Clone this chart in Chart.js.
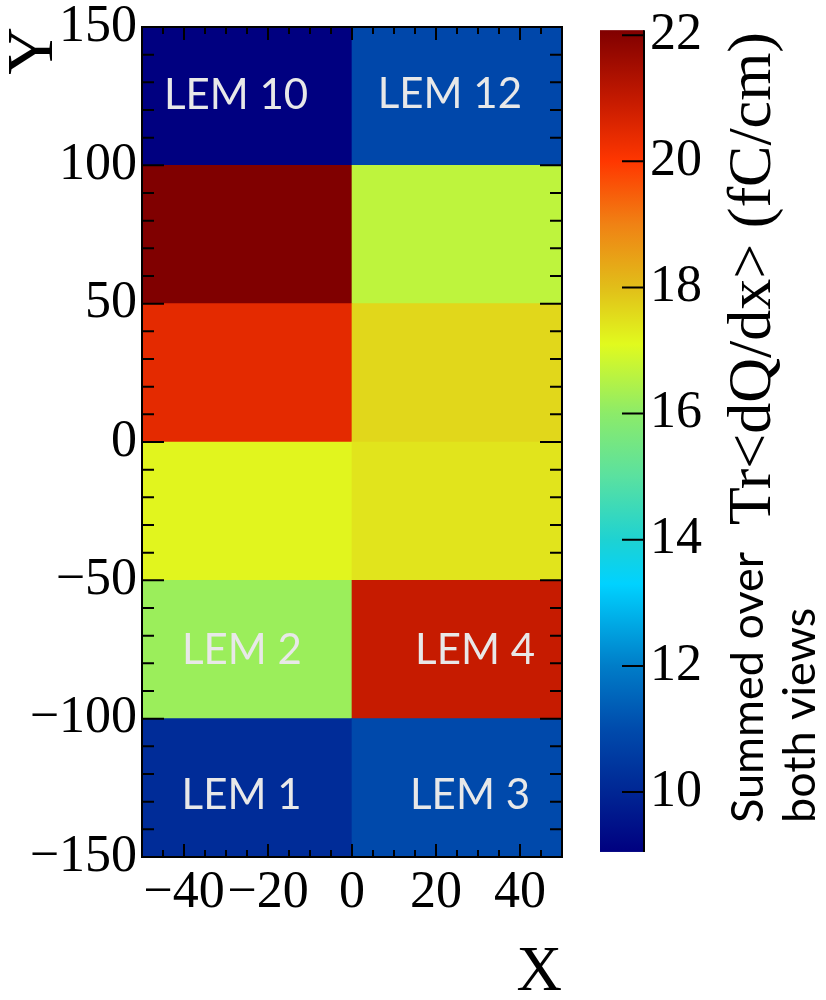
<!DOCTYPE html>
<html>
<head>
<meta charset="utf-8">
<script src="https://cdn.jsdelivr.net/npm/chart.js@4.4.1/dist/chart.umd.min.js"></script>
<style>
  html, body { margin: 0; padding: 0; background: #fff; }
</style>
</head>
<body>
<canvas id="chart" width="826" height="1000"></canvas>
<script>
// cell edges along Y, rows listed bottom -> top
const rowEdges = [-150, -100, -50, 0, 50, 100, 150];
const columns = ['X < 0', 'X > 0'];
// Tr<dQ/dx> (fC/cm) per cell, bottom -> top
const leftValues = [10.15, 16.2, 17.17, 20.45, 22.08, 9.05];
const rightValues = [10.95, 20.95, 17.43, 17.62, 16.65, 10.9];

// LEM names and where they sit (data units)
const lemNames = ['LEM 1', 'LEM 3', 'LEM 2', 'LEM 4', 'LEM 10', 'LEM 12'];
const lemX = [-26.3, 28.1, -26.2, 29.3, -27.6, 23.3];
const lemY = [-127.6, -127.6, -75.2, -75.2, 125.4, 125.8];

const xTicks = [-40, -20, 0, 20, 40];
const yTicks = [-150, -100, -50, 0, 50, 100, 150];
const zTicks = [10, 12, 14, 16, 18, 20, 22];

// colour palette: [value, [r, g, b]]
const palette = [
    [9.05, [0, 0, 128]],
    [10.0, [0, 38, 148]],
    [11.0, [0, 75, 172]],
    [12.0, [0, 125, 200]],
    [13.3, [0, 210, 255]],
    [14.0, [30, 210, 210]],
    [15.0, [90, 225, 160]],
    [16.0, [140, 235, 105]],
    [17.1, [225, 250, 30]],
    [18.0, [225, 190, 25]],
    [19.0, [240, 130, 20]],
    [20.0, [255, 55, 0]],
    [21.0, [195, 25, 0]],
    [22.08, [128, 0, 0]]
];

const allValues = leftValues.concat(rightValues);
const zMin = Math.min(...allValues);
const zMax = Math.max(...allValues);

function colourFor(v) {
    if (v <= palette[0][0]) return rgb(palette[0][1]);
    for (let i = 1; i < palette.length; i++) {
        if (v <= palette[i][0]) {
            const [v0, c0] = palette[i - 1];
            const [v1, c1] = palette[i];
            const t = (v - v0) / (v1 - v0);
            return rgb(c0.map((c, k) => c + (c1[k] - c) * t));
        }
    }
    return rgb(palette[palette.length - 1][1]);
}

function rgb(c) {
    return `rgb(${Math.round(c[0])},${Math.round(c[1])},${Math.round(c[2])})`;
}

function minus(v) {
    return v < 0 ? '\u2212' + Math.abs(v) : String(v);
}

const datasets = [];
for (let r = 0; r < rowEdges.length - 1; r++) {
    datasets.push({
        data: [[rowEdges[r], rowEdges[r + 1]], [rowEdges[r], rowEdges[r + 1]]],
        backgroundColor: [colourFor(leftValues[r]), colourFor(rightValues[r])],
        borderWidth: 0,
        xAxisID: 'xc',
        yAxisID: 'y',
        grouped: false,
        barPercentage: 1,
        categoryPercentage: 1
    });
}

const serif = 'Liberation Serif';

const overlay = {
    id: 'overlay',
    afterDatasetsDraw(chart) {
        const ctx = chart.ctx;
        const area = chart.chartArea;
        const sx = chart.scales.x;
        const sy = chart.scales.y;
        const sz = chart.scales.z;
        ctx.save();

        // LEM labels
        ctx.fillStyle = '#e8e8e8';
        ctx.font = '42px Lato';
        ctx.textAlign = 'center';
        ctx.textBaseline = 'middle';
        lemNames.forEach((name, i) => {
            ctx.fillText(name, sx.getPixelForValue(lemX[i]), sy.getPixelForValue(lemY[i]));
        });

        // inner tick marks, ROOT style
        ctx.strokeStyle = '#000';
        ctx.lineWidth = 2;
        ctx.beginPath();
        for (let v = -45; v <= 45; v += 5) {
            const px = sx.getPixelForValue(v);
            const len = v % 20 === 0 ? 13 : 7;
            ctx.moveTo(px, area.bottom);
            ctx.lineTo(px, area.bottom - len);
            ctx.moveTo(px, area.top);
            ctx.lineTo(px, area.top + len);
        }
        for (let v = -140; v <= 140; v += 10) {
            const py = sy.getPixelForValue(v);
            const len = v % 50 === 0 ? 22 : 12;
            ctx.moveTo(area.left, py);
            ctx.lineTo(area.left + len, py);
            ctx.moveTo(area.right, py);
            ctx.lineTo(area.right - len, py);
        }
        ctx.stroke();
        ctx.strokeRect(area.left, area.top, area.right - area.left, area.bottom - area.top);

        // colour bar
        const bx = area.right + 38;
        const bw = 44;
        const yTop = sz.getPixelForValue(zMax);
        const yBot = sz.getPixelForValue(zMin);
        const grad = ctx.createLinearGradient(0, yBot, 0, yTop);
        palette.forEach(([v, c]) => {
            grad.addColorStop(Math.min(1, Math.max(0, (v - zMin) / (zMax - zMin))), rgb(c));
        });
        ctx.fillStyle = grad;
        ctx.fillRect(bx, yTop, bw, yBot - yTop);
        ctx.beginPath();
        ctx.moveTo(bx + bw, yTop);
        ctx.lineTo(bx + bw, yBot);
        zTicks.forEach(v => {
            const py = sz.getPixelForValue(v);
            ctx.moveTo(bx + bw, py);
            ctx.lineTo(bx + bw - 22, py);
        });
        ctx.stroke();

        // colour bar titles, rotated
        ctx.fillStyle = '#000';
        ctx.textBaseline = 'alphabetic';
        ctx.save();
        ctx.translate(area.right + 208, area.top + 5);
        ctx.rotate(-Math.PI / 2);
        ctx.textAlign = 'right';
        ctx.font = `62px "${serif}"`;
        ctx.fillText('Tr<dQ/dx> (fC/cm)', 0, 0);
        ctx.restore();

        ctx.save();
        ctx.translate(area.right, area.bottom - 34);
        ctx.rotate(-Math.PI / 2);
        ctx.textAlign = 'left';
        ctx.font = '45px Lato';
        ctx.fillText('Summed over', 0, 201);
        ctx.fillText('both views', 0, 253);
        ctx.restore();

        ctx.restore();
    }
};

const tickFont = { family: serif, size: 52 };

new Chart(document.getElementById('chart'), {
    type: 'bar',
    data: { labels: columns, datasets: datasets },
    options: {
        responsive: false,
        animation: false,
        layout: { padding: { top: 27, left: 0, right: 0, bottom: 0 } },
        plugins: { legend: { display: false }, tooltip: { enabled: false } },
        scales: {
            xc: {
                type: 'category',
                display: false,
                offset: true
            },
            x: {
                type: 'linear',
                position: 'bottom',
                min: -50,
                max: 50,
                offset: false,
                grid: { display: false, drawTicks: false },
                border: { display: false },
                afterBuildTicks: s => { s.ticks = xTicks.map(v => ({ value: v })); },
                afterFit: s => { s.height = 143; s.paddingLeft = 0; s.paddingRight = 0; },
                ticks: {
                    font: tickFont, color: '#000', padding: 5,
                    autoSkip: false, maxRotation: 0, minRotation: 0,
                    callback: v => minus(v)
                },
                title: {
                    display: true, text: 'X', align: 'end', color: '#000',
                    font: { family: serif, size: 63, lineHeight: 0.8 },
                    padding: { top: 0, bottom: 1 }
                }
            },
            y: {
                type: 'linear',
                position: 'left',
                min: -150,
                max: 150,
                grid: { display: false, drawTicks: false },
                border: { display: false },
                afterBuildTicks: s => { s.ticks = yTicks.map(v => ({ value: v })); },
                afterFit: s => { s.width = 142; s.paddingTop = 0; s.paddingBottom = 0; },
                ticks: {
                    font: tickFont, color: '#000', padding: 5,
                    autoSkip: false, callback: v => minus(v)
                },
                title: {
                    display: true, text: 'Y', align: 'end', color: '#000',
                    font: { family: serif, size: 66, lineHeight: 1.0 },
                    padding: { top: 2, bottom: 0 }
                }
            },
            z: {
                type: 'linear',
                position: 'right',
                min: 8.97,
                max: 22.13,
                grid: { display: false, drawTicks: false },
                border: { display: false },
                afterBuildTicks: s => { s.ticks = zTicks.map(v => ({ value: v })); },
                afterFit: s => { s.width = 264; s.paddingTop = 0; s.paddingBottom = 0; },
                ticks: {
                    font: tickFont, color: '#000', padding: 88,
                    autoSkip: false
                }
            }
        }
    },
    plugins: [overlay]
});
</script>
</body>
</html>
